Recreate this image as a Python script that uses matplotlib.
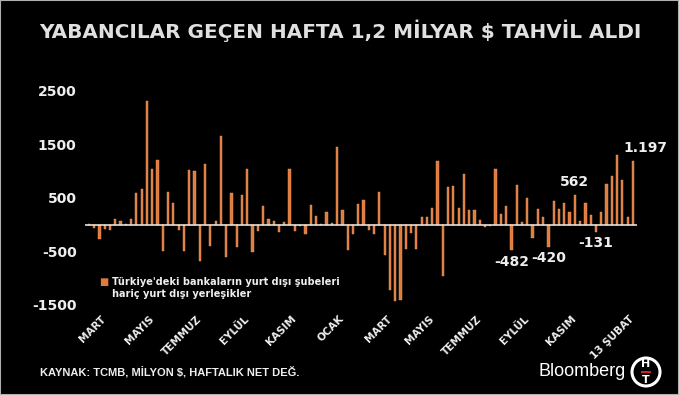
import numpy as np
import matplotlib
matplotlib.use("Agg")
import matplotlib.pyplot as plt
from matplotlib.patches import Circle, Rectangle

# weekly net bond purchases by non-residents (million $)
values = [
    20, -60, -275, -90, -100, 110, 70, 10, 105, 600,
    665, 2310, 1045, 1210, -490, 615, 410, -100, -490, 1030,
    995, -670, 1140, -400, 65, 1660, -595, 600, -425, 560,
    1035, -512, -120, 340, 115, 65, -140, 50, 1045, -120,
    -30, -178, 370, 160, 10, 240, 22, 1460, 265, -465,
    -178, 390, 452, -106, -178, 614, -573, -1225, -1420, -1405,
    -450, -160, -450, 147, 134, 302, 1184, -960, 695, 725,
    320, 938, 277, 274, 90, -47, -28, 1044, 203, 352,
    -482, 745, 47, 489, -246, 293, 143, -420, 449, 287,
    405, 243, 562, 62, 399, 181, -131, 243, 760, 904,
    1297, 829, 150, 1197,
]
month_idx = [3, 12, 21, 30, 39, 48, 57, 65, 74, 83, 92, 103]
month_labels = ["MART", "MAYIS", "TEMMUZ", "EYLÜL", "KASIM", "OCAK",
                "MART", "MAYIS", "TEMMUZ", "EYLÜL", "KASIM", "13 ŞUBAT"]
labelled = {80: "-482", 87: "-420", 92: "562", 96: "-131", 103: "1.197"}

bar_color = "#e07b39"
txt_color = "#eeeeee"

fig = plt.figure(figsize=(6.79, 3.95), dpi=100, facecolor="black")
fig.patches.append(Rectangle((0, 0), 1, 1, transform=fig.transFigure,
                             facecolor="none", edgecolor="#b0b0b0", lw=1.5))
ax = fig.add_axes([0.125, 0.228, 0.813, 0.542])
ax.set_facecolor("black")

x = np.arange(len(values))
ax.bar(x, values, width=0.42, color=bar_color, edgecolor="#f0a070", linewidth=0.3)
ax.axhline(0, color="#e8e0d8", lw=1.2, zorder=3)

ax.set_xlim(-0.75, len(values) - 0.25)
ax.set_ylim(-1500, 2500)
ax.set_yticks([2500, 1500, 500, -500, -1500])
ax.set_yticklabels(["2500", "1500", "500", "-500", "-1500"],
                   color=txt_color, fontsize=10, fontweight="bold")
ax.set_xticks(month_idx)
ax.set_xticklabels(month_labels, rotation=45, ha="right", va="center",
                   rotation_mode="anchor", color=txt_color, fontsize=7.5,
                   fontweight="bold")
ax.tick_params(axis="y", length=0, pad=6)
ax.tick_params(axis="x", length=0, pad=9)
for s in ax.spines.values():
    s.set_visible(False)

for k, lab in labelled.items():
    v = values[k]
    if v >= 0:
        last = k == len(values) - 1
        ax.annotate(lab, (k, v), xytext=(9 if last else 0, 4),
                    textcoords="offset points", ha="center", va="bottom",
                    color=txt_color, fontsize=10, fontweight="bold",
                    annotation_clip=False)
    else:
        ax.annotate(lab, (k, v), xytext=(0, -3), textcoords="offset points",
                    ha="center", va="top", color=txt_color, fontsize=10,
                    fontweight="bold")

# legend
fig.text(104 / 679, 1 - 282 / 395, "■", color=bar_color, fontsize=7,
         ha="center", va="center")
fig.text(112 / 679, 1 - 288 / 395,
         "Türkiye'deki bankaların yurt dışı şubeleri\nhariç yurt dışı yerleşikler",
         color=txt_color, fontsize=7, fontweight="bold", ha="left",
         va="center", linespacing=1.2)

fig.text(340 / 679, 1 - 31 / 395, "YABANCILAR GEÇEN HAFTA 1,2 MİLYAR $ TAHVİL ALDI",
         color="#e0e0e0", fontsize=14.4, fontweight="bold", ha="center", va="center")
fig.text(40 / 679, 1 - 372 / 395, "KAYNAK: TCMB, MİLYON $, HAFTALIK NET DEĞ.",
         color=txt_color, fontsize=8, fontweight="bold", family="Liberation Sans",
         ha="left", va="center")
fig.text(626 / 679, 1 - 372 / 395, "Bloomberg", color="white", fontsize=13,
         family="Liberation Sans", ha="right", va="center")

# HT logo
lx, ly = 646 / 679, 1 - 372 / 395
fig.patches.append(Circle((646, 395 - 372), 14, transform=None,
                          facecolor="black", edgecolor="white", lw=2.2))
fig.text(lx, ly + 0.02, "H", color="white", fontsize=8, fontweight="bold",
         ha="center", va="center")
fig.text(lx, ly - 0.02, "T", color="white", fontsize=8, fontweight="bold",
         ha="center", va="center")
fig.patches.append(Rectangle((641, 395 - 373), 10, 2, transform=None,
                             facecolor="#d02020", edgecolor="none"))

fig.savefig("out.png", dpi=100, facecolor="black")
